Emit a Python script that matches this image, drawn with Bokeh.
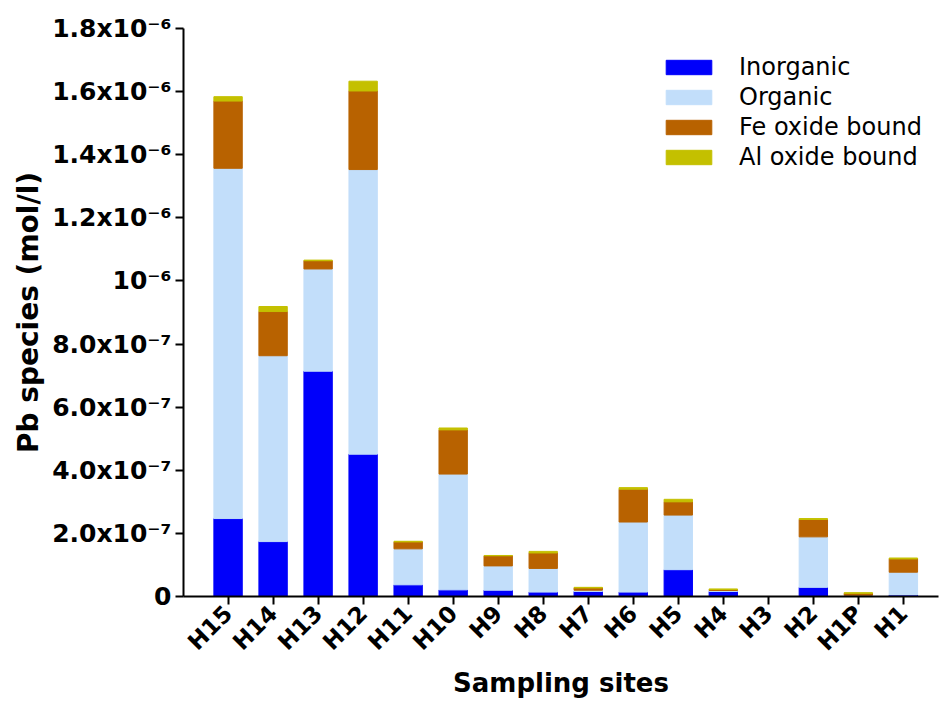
import math
from bokeh.plotting import figure
from bokeh.models import Range1d, FixedTicker, CustomJSTickFormatter, ColumnDataSource
from bokeh.embed import file_html
from bokeh.resources import INLINE

sites = ["H15", "H14", "H13", "H12", "H11", "H10", "H9", "H8",
         "H7", "H6", "H5", "H4", "H3", "H2", "H1P", "H1"]
inorganic = [2.47e-7, 1.74e-7, 7.14e-7, 4.51e-7, 0.37e-7, 0.21e-7, 0.20e-7, 0.14e-7,
             0.16e-7, 0.14e-7, 0.85e-7, 0.16e-7, 0.0, 0.29e-7, 0.01e-7, 0.05e-7]
organic = [11.10e-7, 5.89e-7, 3.24e-7, 9.02e-7, 1.14e-7, 3.67e-7, 0.77e-7, 0.75e-7,
           0.04e-7, 2.22e-7, 1.73e-7, 0.03e-7, 0.0, 1.60e-7, 0.03e-7, 0.72e-7]
fe_oxide = [2.13e-7, 1.40e-7, 0.26e-7, 2.49e-7, 0.22e-7, 1.40e-7, 0.32e-7, 0.49e-7,
            0.07e-7, 1.04e-7, 0.42e-7, 0.03e-7, 0.0, 0.55e-7, 0.06e-7, 0.42e-7]
al_oxide = [0.14e-7, 0.16e-7, 0.02e-7, 0.31e-7, 0.02e-7, 0.06e-7, 0.01e-7, 0.05e-7,
            0.02e-7, 0.05e-7, 0.08e-7, 0.02e-7, 0.0, 0.03e-7, 0.02e-7, 0.03e-7]

series_names = ["Inorganic", "Organic", "Fe oxide bound", "Al oxide bound"]
colors = ["#0000fa", "#c2defa", "#b86200", "#c4c000"]

y_ticks = [0, 2e-7, 4e-7, 6e-7, 8e-7, 1e-6, 1.2e-6, 1.4e-6, 1.6e-6, 1.8e-6]
y_tick_labels = ["0", "2.0x10\u207b\u2077", "4.0x10\u207b\u2077", "6.0x10\u207b\u2077",
                 "8.0x10\u207b\u2077", "10\u207b\u2076", "1.2x10\u207b\u2076",
                 "1.4x10\u207b\u2076", "1.6x10\u207b\u2076", "1.8x10\u207b\u2076"]

positions = list(range(len(sites)))
source = ColumnDataSource(dict(pos=positions, inorganic=inorganic, organic=organic,
                               fe=fe_oxide, al=al_oxide))

FONT = "DejaVu Sans"

p = figure(width=940, height=702, output_backend="svg", toolbar_location=None,
           x_range=Range1d(-0.99, 15.78),
           y_range=Range1d(0, 1.8e-6),
           min_border_left=183, min_border_right=2, min_border_top=28, min_border_bottom=106)

p.vbar_stack(["inorganic", "organic", "fe", "al"], x="pos", width=0.63,
             color=colors, source=source, legend_label=series_names)

p.outline_line_color = None
p.xgrid.grid_line_color = None
p.ygrid.grid_line_color = None
p.background_fill_color = "white"
p.border_fill_color = "white"

yax = p.yaxis[0]
yax.ticker = FixedTicker(ticks=y_ticks, minor_ticks=[])
yax.formatter = CustomJSTickFormatter(args=dict(labels=y_tick_labels),
                                      code="return labels[Math.round(tick / 2e-7)];")
xax = p.xaxis[0]
xax.ticker = FixedTicker(ticks=positions, minor_ticks=[])
xax.major_label_overrides = {i: s for i, s in zip(positions, sites)}

for ax in (xax, yax):
    ax.axis_line_width = 2
    ax.axis_line_color = "black"
    ax.major_tick_line_width = 2
    ax.major_tick_line_color = "black"
    ax.major_tick_out = 8
    ax.major_tick_in = 0
    ax.minor_tick_line_color = None
    ax.major_label_text_font = FONT
    ax.major_label_text_font_style = "bold"
    ax.major_label_text_color = "black"
    ax.axis_label_text_font = FONT
    ax.axis_label_text_font_style = "bold"
    ax.axis_label_text_color = "black"

yax.axis_label_text_font_size = "28px"
xax.axis_label_text_font_size = "26px"
yax.major_label_text_font_size = "25px"
xax.major_label_text_font_size = "23px"
yax.axis_label = "Pb species (mol/l)"
yax.major_label_standoff = 4
yax.axis_label_standoff = 4
xax.axis_label = "Sampling sites"
xax.major_label_orientation = math.pi / 4
xax.major_label_standoff = 5
xax.axis_label_standoff = 0

leg = p.legend[0]
leg.location = (477, 425)
leg.border_line_color = None
leg.background_fill_alpha = 0
leg.padding = 8
leg.margin = 0
leg.spacing = 2
leg.glyph_width = 57
leg.glyph_height = 18
leg.label_height = 28
leg.label_standoff = 22
leg.label_text_font = FONT
leg.label_text_font_size = "24px"
leg.label_text_color = "black"

open("out.html", "w").write(file_html(p, INLINE))
